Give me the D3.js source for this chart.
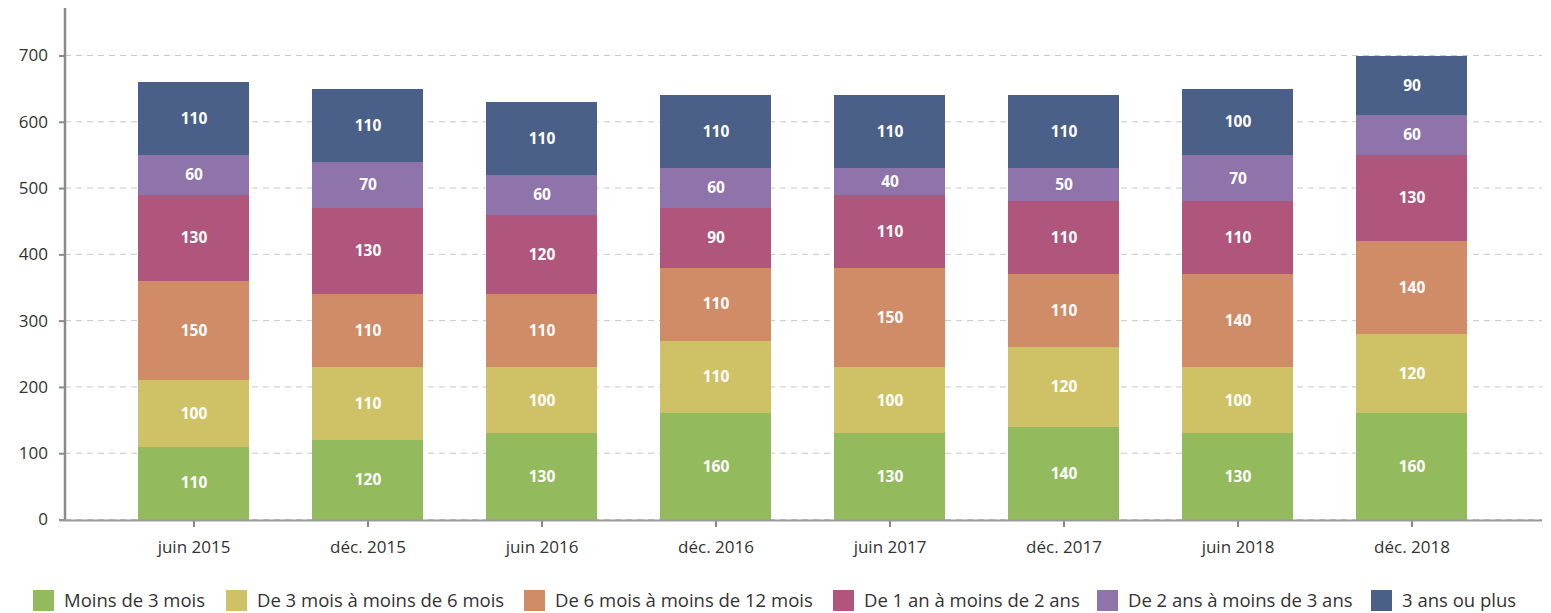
<!DOCTYPE html>
<html lang="fr">
<head>
<meta charset="UTF-8" />
<title>Ancienneté - barres empilées</title>
<script src="https://d3js.org/d3.v7.min.js"></script>
<style>
    body { margin: 0; background: #fff; }
    svg text { font-family: "Open Sans", "Noto Sans", sans-serif; }
</style>
</head>
<body>
<script>
    // Data
    var periods = ["juin 2015", "déc. 2015", "juin 2016", "déc. 2016", "juin 2017", "déc. 2017", "juin 2018", "déc. 2018"];
    var seriesNames = ["Moins de 3 mois", "De 3 mois à moins de 6 mois", "De 6 mois à moins de 12 mois",
        "De 1 an à moins de 2 ans", "De 2 ans à moins de 3 ans", "3 ans ou plus"];
    var moins3mois = [110, 120, 130, 160, 130, 140, 130, 160];
    var de3a6mois = [100, 110, 100, 110, 100, 120, 100, 120];
    var de6a12mois = [150, 110, 110, 110, 150, 110, 140, 140];
    var de1a2ans = [130, 130, 120, 90, 110, 110, 110, 130];
    var de2a3ans = [60, 70, 60, 60, 40, 50, 70, 60];
    var plus3ans = [110, 110, 110, 110, 110, 110, 100, 90];
    var yTicks = [0, 100, 200, 300, 400, 500, 600, 700];

    var colors = ["#93bb5e", "#cfc266", "#d08b67", "#b0557b", "#8e74ab", "#4a6089"];
    var allSeries = [moins3mois, de3a6mois, de6a12mois, de1a2ans, de2a3ans, plus3ans];

    var w = 1551, h = 613;
    var svg = d3.select("body").append("svg").attr("width", w).attr("height", h);

    var table = periods.map(function (p, i) {
        var row = { period: p };
        seriesNames.forEach(function (s, j) { row[s] = allSeries[j][i]; });
        return row;
    });
    var stacked = d3.stack().keys(seriesNames)(table);

    var x = d3.scaleBand().domain(periods).range([107, 1499]).paddingInner(0.36).paddingOuter(0.18);
    var y = d3.scaleLinear().domain([0, 700]).range([519.5, 55.5]);

    // Grid
    svg.append("g").selectAll("line").data(yTicks).enter().append("line")
        .attr("x1", 65).attr("x2", 1542)
        .attr("y1", function (d) { return y(d); }).attr("y2", function (d) { return y(d); })
        .style("stroke", "#c8c8c8").style("stroke-width", 1).style("stroke-dasharray", "6,5");

    // Bars (rounded edges so stacked segments meet without seams)
    var layer = svg.append("g").selectAll("g").data(stacked).enter().append("g")
        .style("fill", function (d, i) { return colors[i]; });
    layer.selectAll("rect").data(function (d) { return d; }).enter().append("rect")
        .attr("x", function (d) { return Math.round(x(d.data.period)); })
        .attr("width", Math.round(x.bandwidth()))
        .attr("y", function (d) { return Math.round(y(d[1])); })
        .attr("height", function (d) { return Math.round(y(d[0])) - Math.round(y(d[1])); })
        .attr("shape-rendering", "crispEdges");

    // Bar labels
    var lab = svg.append("g").selectAll("g").data(stacked).enter().append("g");
    lab.selectAll("text").data(function (d) { return d; }).enter().append("text")
        .attr("x", function (d) { return x(d.data.period) + x.bandwidth() / 2; })
        .attr("y", function (d) { return (y(d[0]) + y(d[1])) / 2; })
        .attr("dy", "0.35em")
        .attr("text-anchor", "middle")
        .style("fill", "#fff").style("font-size", "15.5px").style("font-weight", "bold")
        .text(function (d) { return d[1] - d[0]; });

    // Y axis
    var yAxis = svg.append("g").attr("transform", "translate(65,0)")
        .call(d3.axisLeft(y).tickValues(yTicks).tickSize(6).tickPadding(11));
    yAxis.select(".domain").remove();
    yAxis.selectAll(".tick line").style("stroke", "#888").style("stroke-width", 2);
    yAxis.selectAll(".tick text").style("font-size", "17px").style("fill", "#333");
    svg.append("line").attr("x1", 65).attr("x2", 65).attr("y1", 8).attr("y2", 521)
        .style("stroke", "#8a8a8a").style("stroke-width", 2.5);

    // X axis
    var xAxis = svg.append("g").attr("transform", "translate(0,520)")
        .call(d3.axisBottom(x).tickSize(7).tickPadding(14));
    xAxis.select(".domain").remove();
    xAxis.selectAll(".tick line").style("stroke", "#888").style("stroke-width", 2);
    xAxis.selectAll(".tick text").style("font-size", "17px").style("fill", "#333");
    svg.append("line").attr("x1", 60).attr("x2", 1542).attr("y1", 520.5).attr("y2", 520.5)
        .style("stroke", "#999").style("stroke-width", 2);

    // Legend
    var legendX = [33, 226, 524, 833, 1097, 1371];
    var leg = svg.append("g").selectAll("g").data(seriesNames).enter().append("g")
        .attr("transform", function (d, i) { return "translate(" + legendX[i] + ",590)"; });
    leg.append("rect").attr("width", 21).attr("height", 21)
        .style("fill", function (d, i) { return colors[i]; });
    leg.append("text").attr("x", 31).attr("y", 11).attr("dy", "0.35em")
        .style("font-size", "18.5px").style("fill", "#333")
        .text(function (d) { return d; });
</script>
</body>
</html>
